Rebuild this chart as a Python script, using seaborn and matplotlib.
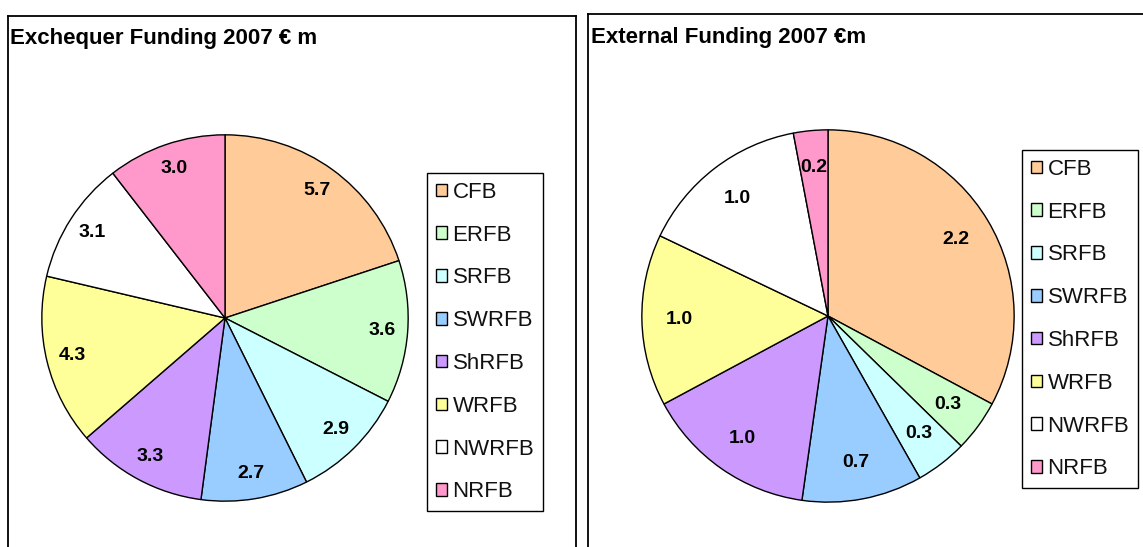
import matplotlib
matplotlib.use('Agg')
import matplotlib.pyplot as plt
import seaborn as sns

# river basin boards, same order in both pies and legends
BOARDS = ['CFB', 'ERFB', 'SRFB', 'SWRFB', 'ShRFB', 'WRFB', 'NWRFB', 'NRFB']
EXCHEQUER = [5.7, 3.6, 2.9, 2.7, 3.3, 4.3, 3.1, 3.0]
EXTERNAL = [2.2, 0.3, 0.3, 0.7, 1.0, 1.0, 1.0, 0.2]
COLOURS = ['#FFCC99', '#CCFFCC', '#CCFFFF', '#99CCFF',
           '#CC99FF', '#FFFF99', '#FFFFFF', '#FF99CC']

W, H = 1143, 547


def px_rect(x0, y0, x1, y1):
    """pixel box (top-left origin) -> figure fraction rect"""
    return [x0 / W, 1 - y1 / H, (x1 - x0) / W, (y1 - y0) / H]


def draw_panel(fig, frame_box, pie_box, title, title_xy, values, legend_xy, pctdist):
    frame = fig.add_axes(px_rect(*frame_box))
    frame.set_xticks([])
    frame.set_yticks([])
    for s in frame.spines.values():
        s.set_color('black')
        s.set_linewidth(1.3)
    frame.set_facecolor('white')
    fig.text(title_xy[0] / W, 1 - title_xy[1] / H, title, fontsize=16,
             fontweight='bold', color='black', ha='left', va='baseline')

    ax = fig.add_axes(px_rect(*pie_box))
    total = sum(values)
    wedges, _, texts = ax.pie(
        values, colors=COLOURS, startangle=90, counterclock=False,
        autopct=lambda p: f'{p * total / 100:.1f}', pctdistance=pctdist,
        wedgeprops=dict(edgecolor='black', linewidth=1.0),
        textprops=dict(fontsize=14, fontweight='bold', color='black'))
    ax.set_xlim(-1.01, 1.01)
    ax.set_ylim(-1.01, 1.01)
    ax.set_aspect('equal')

    leg = fig.legend(wedges, BOARDS, loc='upper left',
                     bbox_to_anchor=(legend_xy[0] / W, 1 - legend_xy[1] / H),
                     frameon=True, fancybox=False, edgecolor='black', framealpha=1,
                     fontsize=16, handlelength=0.5, handleheight=0.5,
                     handletextpad=0.25, labelspacing=0.98, borderpad=0.4,
                     borderaxespad=0)
    for t in leg.get_texts():
        t.set_color('#111111')


def main():
    sns.set_theme(style='white')
    plt.rcParams['font.family'] = ['Liberation Sans', 'DejaVu Sans']
    fig = plt.figure(figsize=(W / 100, H / 100), dpi=100)

    draw_panel(fig, (8, 16, 576, 600), (40, 133, 410, 503),
               'Exchequer Funding 2007 € m', (10, 44), EXCHEQUER, (427, 173), 0.86)
    draw_panel(fig, (588, 14, 1200, 600), (640, 128, 1016, 504),
               'External Funding 2007 €m', (591, 43), EXTERNAL, (1022, 150), 0.80)

    fig.savefig('out.png', dpi=100)


if __name__ == '__main__':
    main()
